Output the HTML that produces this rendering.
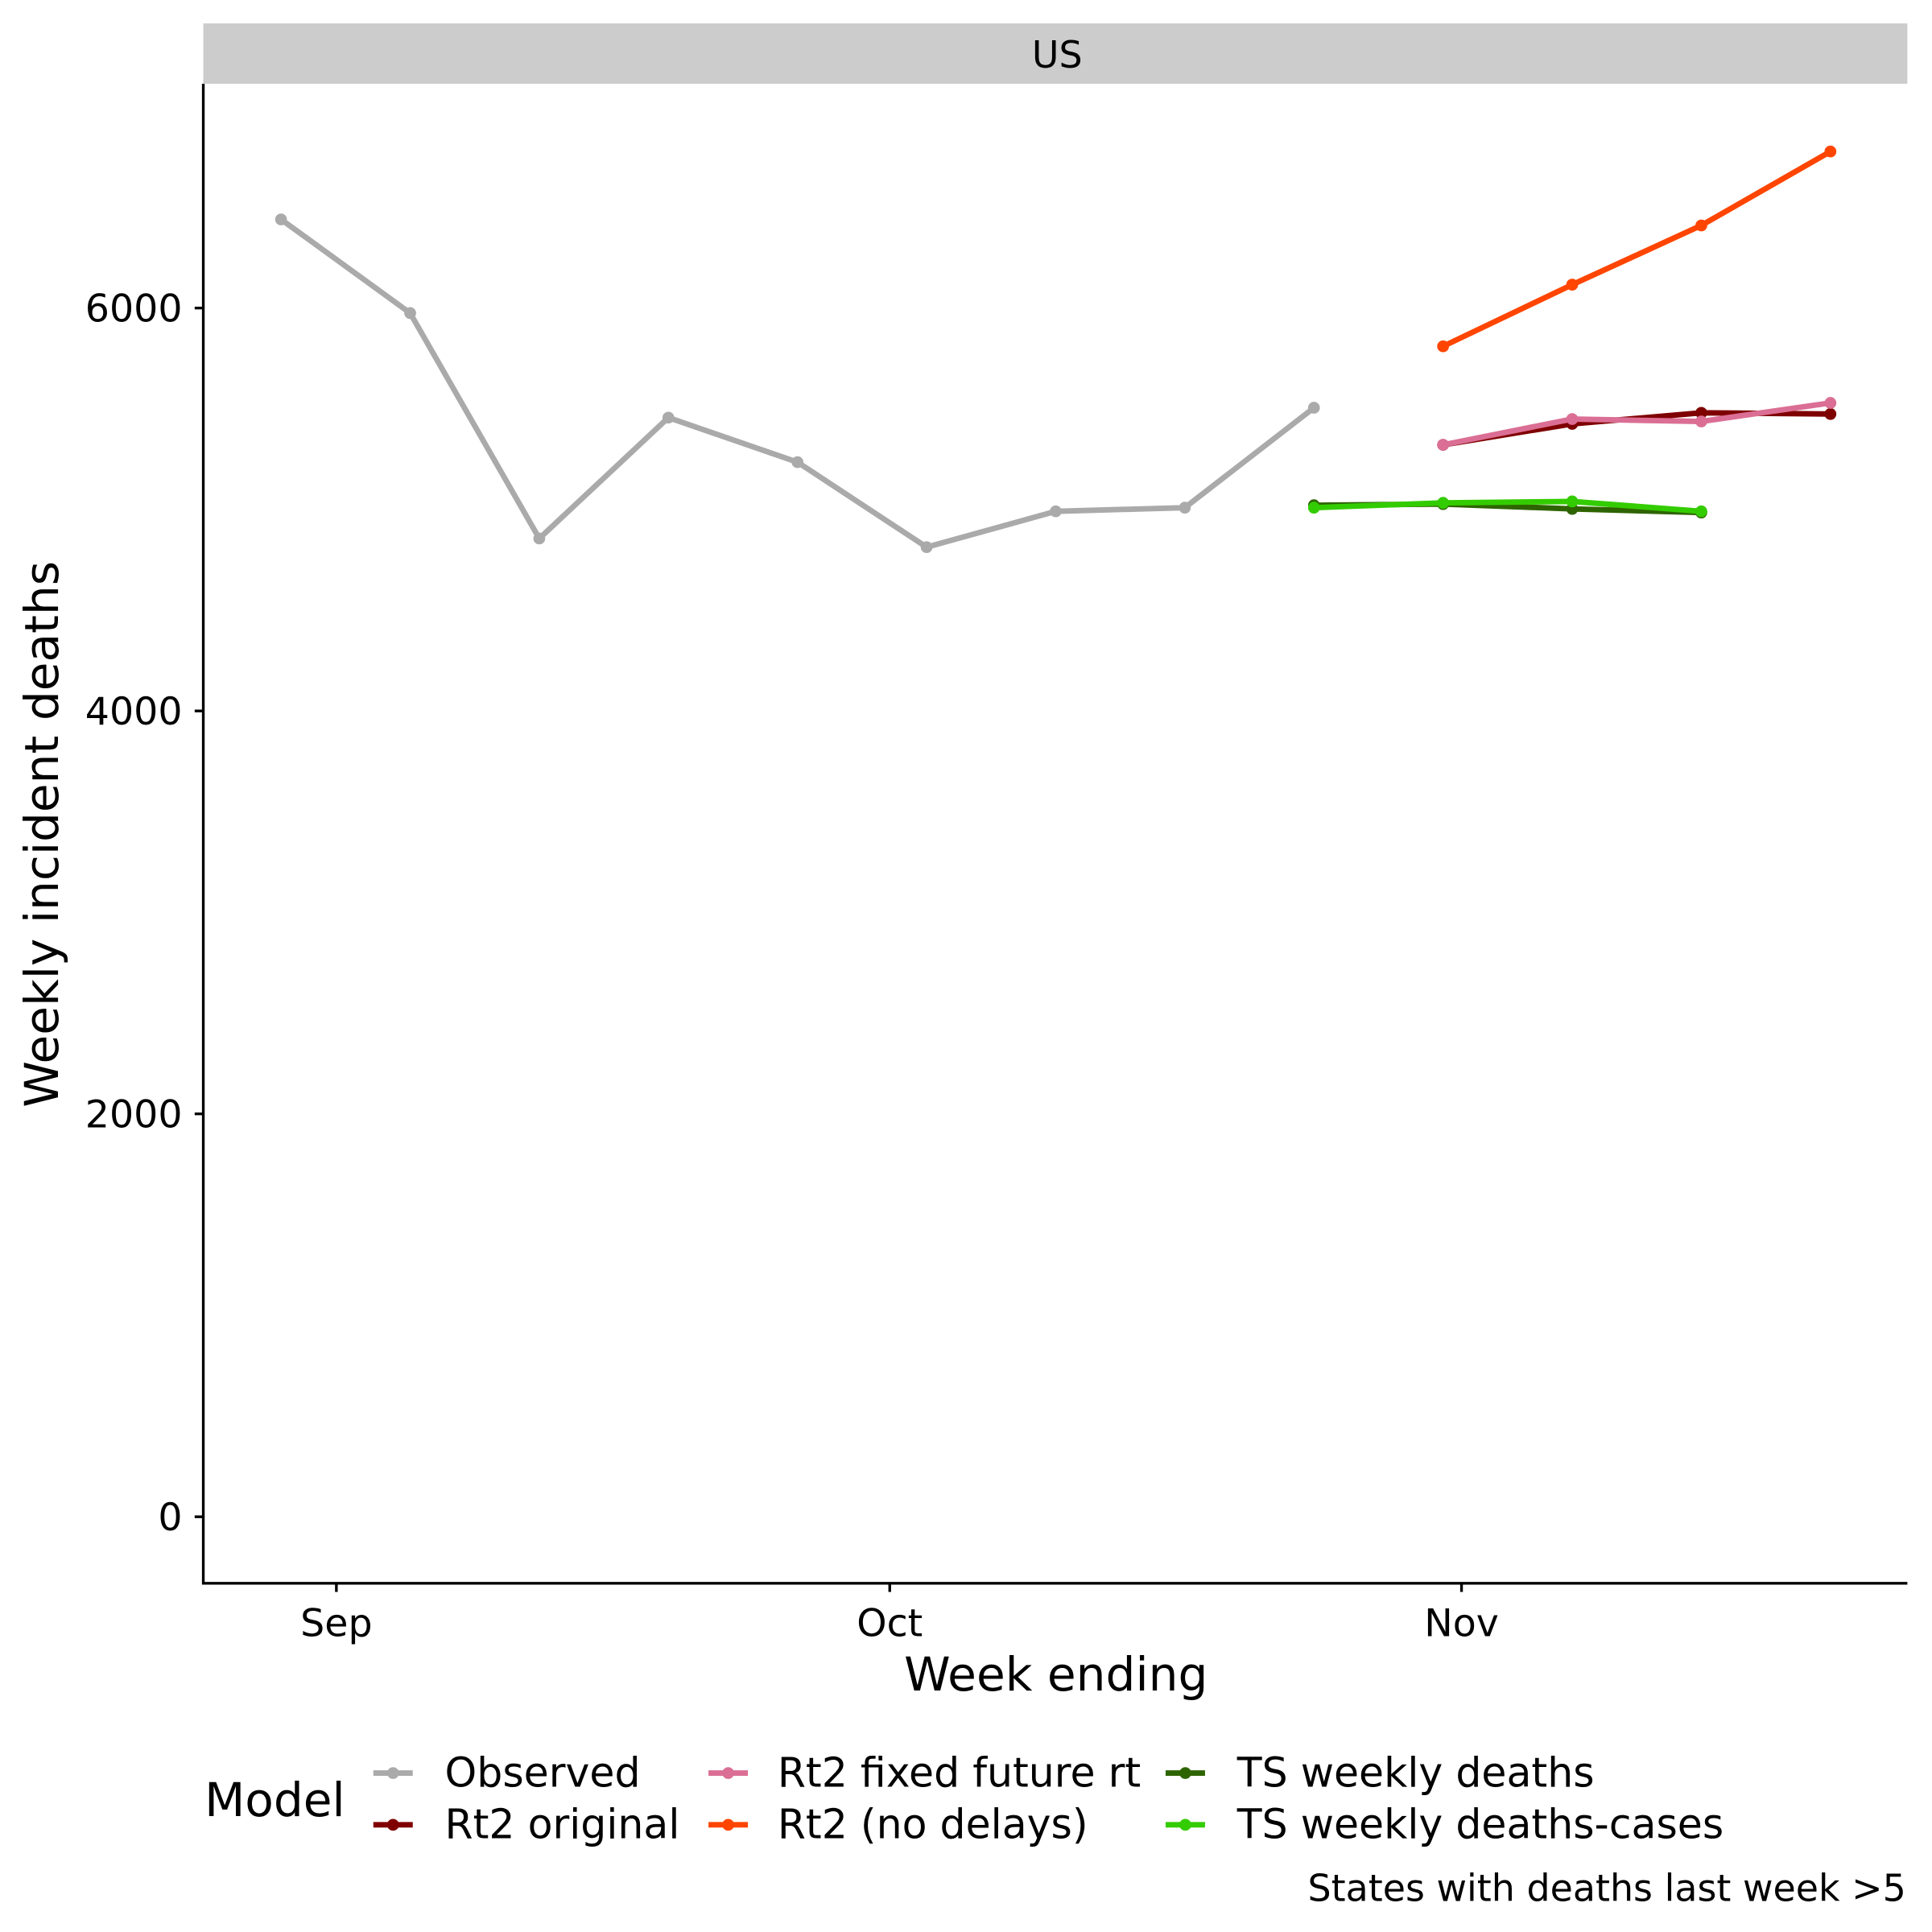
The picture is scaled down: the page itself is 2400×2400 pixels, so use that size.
<!DOCTYPE html>
<html><head><meta charset="utf-8"><style>
html,body{margin:0;padding:0;background:#fff}
svg{display:block;font-family:"DejaVu Sans","Liberation Sans",sans-serif}
</style></head><body>
<svg id="chart" width="2400" height="2400" viewBox="0 0 1568 1568" xmlns="http://www.w3.org/2000/svg">
<rect width="1568" height="1568" fill="#fff"/>
<rect x="165" y="19" width="1383" height="49" fill="#cccccc"/>
<text x="858" y="55" font-size="30" text-anchor="middle">US</text>
<g id="plot"></g>
<line x1="165" y1="68" x2="165" y2="1286" stroke="#000" stroke-width="2.2"/>
<line x1="164" y1="1285" x2="1548" y2="1285" stroke="#000" stroke-width="2.2"/>
<g id="yticks"></g>
<g id="xticks"></g>
<text x="857" y="1372" font-size="38" text-anchor="middle">Week ending</text>
<text transform="translate(47,677) rotate(-90)" font-size="38" text-anchor="middle">Weekly incident deaths</text>
<g id="legend">
<text x="166" y="1474" font-size="38">Model</text>
</g>
<text x="1547" y="1543" font-size="30" text-anchor="end">States with deaths last week &gt;5</text>
</svg>
<script>
const obsDays=[-3,4,11,18,25,32,39,46,53];
const obsVals=[6440,5975,4856,5456,5235,4813,4991,5009,5505];
const fcDays=[60,67,74,81];
const rt2Orig=[5321,5425,5480,5474];
const rt2Fixed=[5321,5449,5437,5529];
const rt2NoDelay=[5810,6116,6410,6777];
const tsDays=[53,60,67,74];
const tsDeaths=[5021,5027,5003,4985];
const tsDeathsCases=[5009,5033,5040,4991];
const yTicks=[0,2000,4000,6000];
const xTickDays=[0,30,61];
const xTickLabels=["Sep","Oct","Nov"];
const legendNames=["Observed","Rt2 original","Rt2 fixed future rt","Rt2 (no delays)","TS weekly deaths","TS weekly deaths-cases"];
const legendColors=["#aaaaaa","#7f0000","#db6e94","#ff4500","#2e6400","#33cc00"];

const NS="http://www.w3.org/2000/svg";
function X(d){return 273+d*14.97;}
function Y(v){return 1231-v*(327/2000);}
function mk(tag,attrs,parent){const e=document.createElementNS(NS,tag);for(const k in attrs)e.setAttribute(k,attrs[k]);parent.appendChild(e);return e;}
const plot=document.getElementById('plot');
function series(name,days,vals,color,w){
  const g=mk('g',{},plot);
  
  
  const p=mk('polyline',{points:days.map((d,i)=>X(d)+','+Y(vals[i])).join(' '),fill:'none',stroke:color,'stroke-width':w,'stroke-linejoin':'round'},g);
  
  
  days.forEach((d,i)=>{
    const c=mk('circle',{cx:X(d),cy:Y(vals[i]),r:4.8,fill:color},g);
    
    
  });
}
series('observed-series',obsDays,obsVals,legendColors[0],4.5);
series('rt2-original-series',fcDays,rt2Orig,legendColors[1],4.5);
series('rt2-no-delays-series',fcDays,rt2NoDelay,legendColors[3],4.5);
series('rt2-fixed-series',fcDays,rt2Fixed,legendColors[2],4.5);
series('ts-weekly-deaths-series',tsDays,tsDeaths,legendColors[4],4.5);
series('ts-weekly-deaths-cases-series',tsDays,tsDeathsCases,legendColors[5],4.5);

const yt=document.getElementById('yticks');
yTicks.forEach(v=>{
  const l=mk('line',{x1:158,x2:165,y1:Y(v),y2:Y(v),stroke:'#000','stroke-width':2.2},yt);
  
  
  const t=mk('text',{x:148,y:Y(v)+11,'font-size':31,'text-anchor':'end'},yt);
  t.textContent=v;
  
  
});
const xt=document.getElementById('xticks');
xTickDays.forEach((d,i)=>{
  const l=mk('line',{x1:X(d),x2:X(d),y1:1285,y2:1292,stroke:'#000','stroke-width':2.2},xt);
  
  
  const t=mk('text',{x:X(d),y:1328,'font-size':31,'text-anchor':'middle'},xt);
  t.textContent=xTickLabels[i];
  
  
});
const lg=document.getElementById('legend');
const colKey=[303,575,946],colText=[361,631,1004],rowY=[1439,1481];
legendNames.forEach((n,i)=>{
  const c=Math.floor(i/2),r=i%2;
  const g=mk('g',{},lg);
  
  
  mk('line',{x1:colKey[c],x2:colKey[c]+32,y1:rowY[r],y2:rowY[r],stroke:legendColors[i],'stroke-width':4.5},g);
  mk('circle',{cx:colKey[c]+16,cy:rowY[r],r:4.8,fill:legendColors[i]},g);
  const t=mk('text',{x:colText[c],y:rowY[r]+11,'font-size':33},g);
  t.textContent=n;
});
</script>
</body></html>
